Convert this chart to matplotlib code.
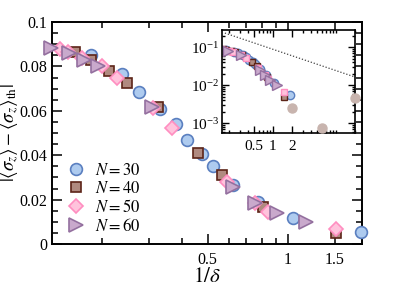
import matplotlib
matplotlib.use("Agg")
import matplotlib.pyplot as plt
from matplotlib.ticker import FixedLocator, FixedFormatter, NullFormatter, LogLocator

plt.rcParams['font.family'] = ['Liberation Serif', 'DejaVu Serif']
plt.rcParams['mathtext.fontset'] = 'stix'

# ---- data (x = 1/delta) ----
x30 = [0.183, 0.239, 0.277, 0.330, 0.379, 0.420, 0.475, 0.522, 0.621, 0.771, 1.044, 1.88]
y30 = [0.0851, 0.0766, 0.0685, 0.0608, 0.0541, 0.0468, 0.0405, 0.0351, 0.0266, 0.0189, 0.0117, 0.0054]
x40 = [0.159, 0.183, 0.214, 0.248, 0.327, 0.462, 0.564, 0.805, 1.516]
y40 = [0.0865, 0.0829, 0.0779, 0.0725, 0.0617, 0.0410, 0.0311, 0.0167, 0.0050]
x50 = [0.139, 0.149, 0.169, 0.201, 0.229, 0.313, 0.369, 0.589, 0.751, 0.841, 1.516]
y50 = [0.0878, 0.0865, 0.0838, 0.0802, 0.0748, 0.0613, 0.0523, 0.0279, 0.0185, 0.0144, 0.0068]
x60 = [0.129, 0.151, 0.172, 0.194, 0.310, 0.621, 0.751, 0.909, 1.169]
y60 = [0.0883, 0.0860, 0.0829, 0.0802, 0.0617, 0.0257, 0.0185, 0.0140, 0.0099]

# inset extra points and reference line
xtan = [2.0, 6.0, 20.0]
ytan = [2.48e-3, 7.4e-4, 4.6e-3]
xline = [0.173, 20.0]
yline = [0.234, 0.0163]

labels = [r'$N=30$', r'$N=40$', r'$N=50$', r'$N=60$']
xticks_main = [0.5, 1, 1.5]
xticklabels_main = ['0.5', '1', '1.5']
yticks_main = [0, 0.02, 0.04, 0.06, 0.08, 0.1]
yticklabels_main = ['0', '0.02', '0.04', '0.06', '0.08', '0.1']
xticks_inset = [0.5, 1, 2]
xticklabels_inset = ['0.5', '1', '2']

styles = [
    dict(marker='o', ms=8.5, mfc='#aecbef', mec='#5a7fc0', mew=1.2),
    dict(marker='s', ms=6.5, mfc='#b08a80', mec='#5c2418', mew=1.2),
    dict(marker='D', ms=7.5, mfc='#ffc3dc', mec='#ff8ec0', mew=1.2),
    dict(marker='>', ms=9.5, mfc='#c9a9cc', mec='#94709f', mew=1.2),
]
series = [(x30, y30), (x40, y40), (x50, y50), (x60, y60)]

fig = plt.figure(figsize=(3.99, 2.95), dpi=100)
ax = fig.add_axes([0.130, 0.173, 0.777, 0.752])

for (xs, ys), st, lab in zip(series, styles, labels):
    ax.plot(xs, ys, ls='none', label=lab, clip_on=False, zorder=3, **st)

ax.set_xscale('log')
ax.set_xlim(0.13, 1.9)
ax.set_ylim(0, 0.1)
ax.xaxis.set_major_locator(FixedLocator(xticks_main))
ax.xaxis.set_major_formatter(FixedFormatter(xticklabels_main))
ax.xaxis.set_minor_locator(FixedLocator([0.2, 0.3, 0.4, 0.6, 0.7, 0.8, 0.9]))
ax.xaxis.set_minor_formatter(NullFormatter())
ax.yaxis.set_major_locator(FixedLocator(yticks_main))
ax.yaxis.set_major_formatter(FixedFormatter(yticklabels_main))
ax.yaxis.set_minor_locator(FixedLocator([0.005 * i for i in range(21)]))
ax.tick_params(which='both', direction='in', top=True, right=True, labelsize=11.5, width=1.1)
ax.tick_params(axis='x', which='major', pad=6)
ax.tick_params(which='major', length=7)
ax.tick_params(which='minor', length=4)
for s in ax.spines.values():
    s.set_linewidth(1.4)
ax.set_xlabel(r'$1/\delta$', fontsize=15, labelpad=0)
ax.set_ylabel(r'$|\langle\sigma_z\rangle-\langle\sigma_z\rangle_{\rm th}|$', fontsize=13.5)
ax.yaxis.set_label_coords(-0.098, 0.5)

leg = ax.legend(loc='upper left', bbox_to_anchor=(0.025, 0.395), frameon=False,
                fontsize=12, handletextpad=0.55, labelspacing=0.12, borderaxespad=0,
                handlelength=1.2)

# ---- inset ----
ins = fig.add_axes([0.556, 0.549, 0.334, 0.349])
ins.set_facecolor('white')
ins.plot(xline, yline, ls=(0, (1, 1.5)), color='#444444', lw=0.9)
ins_styles = [
    dict(marker='o', ms=6, mfc='#aecbef', mec='#5a7fc0', mew=1.0),
    dict(marker='s', ms=5, mfc='#b08a80', mec='#5c2418', mew=1.0),
    dict(marker='s', ms=5, mfc='#ffc3dc', mec='#ff8ec0', mew=1.0),
    dict(marker='>', ms=6.5, mfc='#c9a9cc', mec='#94709f', mew=1.0),
]
for (xs, ys), st in zip(series, ins_styles):
    ins.plot(xs, ys, ls='none', **st)
ins.plot(xtan, ytan, ls='none', marker='o', ms=6.5, mfc='#c8b4ae', mec='#c8b4ae', clip_on=False, zorder=4)
ins.set_xscale('log')
ins.set_yscale('log')
ins.set_xlim(0.155, 20)
ins.set_ylim(5.5e-4, 0.28)
ins.xaxis.set_major_locator(FixedLocator(xticks_inset))
ins.xaxis.set_major_formatter(FixedFormatter(xticklabels_inset))
ins.xaxis.set_minor_locator(LogLocator(base=10, subs=range(1, 10), numticks=20))
ins.xaxis.set_minor_formatter(NullFormatter())
ins.yaxis.set_major_locator(LogLocator(base=10, numticks=10))
ins.yaxis.set_minor_locator(LogLocator(base=10, subs=range(2, 10), numticks=20))
ins.yaxis.set_minor_formatter(NullFormatter())
ins.tick_params(which='both', direction='in', top=True, right=True, labelsize=11, width=1.0, pad=2)
ins.tick_params(axis='x', which='major', pad=5)
ins.tick_params(which='major', length=5)
ins.tick_params(which='minor', length=2.5)
for s in ins.spines.values():
    s.set_linewidth(1.2)

fig.savefig('out.png', dpi=100)
